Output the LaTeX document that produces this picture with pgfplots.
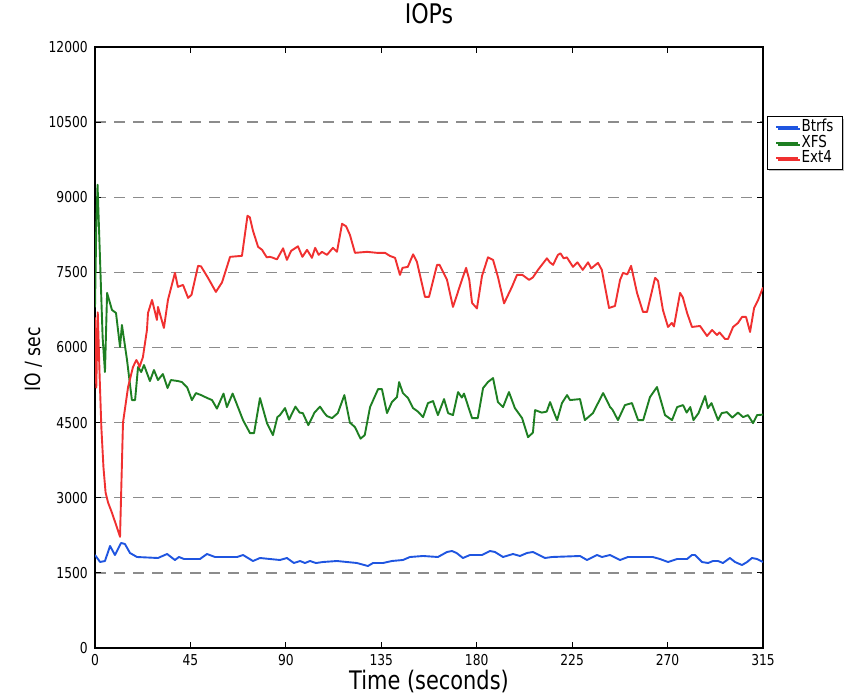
\documentclass[border=0pt]{standalone}
\usepackage{fontspec}
\setmainfont[FakeStretch=0.82]{DejaVu Sans}
\usepackage{pgfplots}
\pgfplotsset{compat=1.18}
\usetikzlibrary{shadows}
\definecolor{btrfs}{HTML}{1F55E0}
\definecolor{xfs}{HTML}{1E7F22}
\definecolor{ext}{HTML}{F03030}
\definecolor{gridc}{HTML}{8C8C8C}

\begin{document}
\begin{tikzpicture}
\begin{axis}[
  scale only axis, width=668pt, height=601pt,
  xmin=0, xmax=315, ymin=0, ymax=12000,
  xtick={0,45,...,315}, ytick={0,1500,...,12000},
  scaled y ticks=false,
  /pgf/number format/.cd, 1000 sep={}, assume math mode=true, /pgfplots/.cd,
  tick align=inside, tick pos=both, major tick length=6pt,
  tick style={black, line width=0.9pt},
  axis line style={black, line width=1.6pt},
  ymajorgrids, grid style={gridc, line width=1.4pt, dash pattern=on 11pt off 8pt},
  ticklabel style={font=\fontsize{15}{15}\selectfont},
  yticklabel style={inner sep=0pt, xshift=-7pt},
  xticklabel style={inner sep=0pt, yshift=-6pt},
  title={IOPs},
  title style={font=\fontsize{27}{27}\selectfont, at={(axis description cs:0.5,1)}, anchor=base, inner sep=0pt, yshift=17pt},
  xlabel={Time (seconds)},
  xlabel style={font=\fontsize{25.5}{25.5}\selectfont, at={(axis description cs:0.5,0)}, anchor=base, inner sep=0pt, yshift=-41pt},
  ylabel={IO / sec},
  ylabel style={font=\fontsize{21}{21}\selectfont, at={(axis description cs:-0.082,0.48)}, anchor=base, inner sep=0pt},
  legend style={at={(1.006,0.885)}, anchor=north west, draw=black, line width=0.8pt, fill=white,
    row sep=0pt, column sep=2pt, inner xsep=8pt, inner ysep=3pt,
    nodes={font=\fontsize{16.5}{16.5}\selectfont, inner sep=0.5pt, text height=11.5pt, text depth=3pt},
    cells={anchor=west}, drop shadow={shadow xshift=2pt, shadow yshift=-2pt, fill=gray!50, opacity=1}},
  legend image code/.code={\draw[line width=1.6pt, #1] (0pt,0pt) -- (22pt,0pt);},
  every axis plot/.append style={line width=1.9pt, line join=round},
]
% Btrfs
\addplot[draw=btrfs] coordinates {
(0,1857) (2.4,1717) (4.7,1737) (7.1,2037) (9.4,1857) (12.3,2097) (14.1,2077) (16.5,1897)
(19.8,1817) (29.7,1797) (34,1877) (37.7,1757) (39.6,1817) (42,1777) (49.5,1777) (52.8,1877)
(56.6,1817) (67,1817) (69.8,1857) (74.5,1737) (77.8,1797) (87.2,1757) (90.5,1797) (93.8,1697)
(96.7,1737) (99,1697) (101.4,1737) (104.2,1697) (107.5,1717) (114.1,1737) (123.5,1697)
(128.7,1637) (131.1,1697) (135.8,1697) (140,1737) (145.2,1757) (148.5,1817) (154.7,1837)
(161.7,1817) (166,1917) (168.3,1937) (170.5,1897) (173.5,1797) (176.8,1857) (182.5,1857)
(186.3,1937) (188.6,1917) (192.4,1817) (197.1,1877) (200.4,1837) (203.7,1897) (206.5,1917)
(212.2,1797) (215.5,1817) (228.7,1837) (232,1757) (236.7,1857) (239.1,1817) (242.9,1857)
(247.6,1757) (251.3,1817) (260.3,1817) (263,1817) (266.4,1777) (270.2,1717) (274.5,1777)
(279.2,1777) (281.5,1857) (282.9,1857) (286.2,1717) (289.1,1697) (291.4,1737) (293.8,1737)
(296.1,1697) (299.4,1797) (301.8,1717) (305.1,1657) (307.5,1717) (309.8,1797) (312.2,1777)
(315,1717)
};
\addlegendentry{Btrfs}
% XFS
\addplot[draw=xfs] coordinates {
(0,6800) (0.6,8400) (1.2,9250) (2.5,7600) (3.6,6200) (4.7,5510) (5.7,7090) (8,6750)
(9.9,6690) (11.8,6010) (12.7,6450) (15.1,5750) (17.4,4950) (18.9,4950) (20.3,5610)
(21.8,5510) (23.1,5650) (25.9,5330) (27.8,5550) (29.7,5350) (32,5470) (34.2,5190)
(35.8,5350) (39.1,5330) (41,5310) (43.5,5200) (45.7,4950) (47.6,5090) (50,5050) (53,4990)
(55.2,4950) (57.5,4780) (60.6,5080) (62.2,4810) (64.9,5080) (67.5,4800) (69.8,4550)
(73.1,4290) (75,4290) (77.8,4990) (81.1,4490) (83.9,4250) (86,4610) (87.2,4650) (89.6,4790)
(91.5,4560) (94.5,4820) (96.5,4700) (98,4690) (100.6,4450) (103.5,4700) (106.1,4820)
(108,4700) (109.4,4630) (111.8,4590) (114.5,4690) (117.6,5050) (120.2,4500) (122.6,4410)
(125.2,4180) (127.2,4250) (129.7,4810) (133.5,5170) (135.3,5170) (137.7,4690) (140,4910)
(142.4,5010) (143.4,5310) (145.2,5090) (147.6,4990) (150,4790) (152.3,4720) (154.7,4610)
(157,4890) (159.4,4930) (161.7,4650) (164.6,4970) (166.5,4690) (168.8,4650) (171.2,5110)
(173,5000) (174,5080) (177.8,4590) (180.5,4590) (183,5190) (185.3,5310) (187.7,5390)
(190,4910) (192.4,4810) (195.2,5110) (198,4790) (201.4,4590) (204.2,4210) (206.5,4300)
(207.5,4750) (210.7,4700) (213,4720) (214.6,4910) (216,4750) (217.9,4550) (220.2,4890)
(222.6,5050) (224,4950) (228.7,4970) (231,4550) (234.8,4690) (239.6,5090) (242.9,4810)
(244,4760) (246.6,4550) (249.9,4850) (253.2,4890) (256.1,4550) (258.5,4550) (261.7,5010)
(265,5210) (268.8,4650) (272.1,4550) (274.5,4810) (277.3,4850) (279,4700) (280.7,4810)
(282.2,4550) (284.6,4690) (287.7,5030) (289,4790) (290.7,4890) (293.8,4550) (295.5,4690)
(298,4710) (300.5,4600) (303.2,4700) (305.6,4610) (307.9,4650) (310.3,4490) (312.2,4650)
(315,4660)
};
\addlegendentry{XFS}
% Ext4
\addplot[draw=ext] coordinates {
(0,6600) (0.6,5200) (1.3,6700) (2.2,5400) (3,4400) (4,3600) (5,3100) (6.2,2900) (8,2700)
(10,2450) (11.8,2220) (13.2,4500) (15.6,5210) (17.9,5610) (19.5,5750) (20.3,5690)
(21,5610) (22.6,5810) (24.5,6350) (25,6690) (26.9,6950) (29.2,6550) (29.7,6810)
(32.5,6390) (34.4,6950) (37.7,7490) (39.1,7210) (41.5,7250) (43.9,6990) (45.5,7050)
(48.6,7630) (50,7620) (53.3,7390) (57,7110) (59.9,7300) (63.7,7810) (69.3,7830)
(71.9,8630) (73,8600) (74.5,8330) (76.9,8010) (78.8,7950) (79.5,7900) (81,7800)
(82.5,7810) (84,7790) (85.8,7760) (88.7,7980) (90.5,7750) (92.5,7930) (95.7,8020)
(97.8,7810) (100,7950) (102.3,7790) (103.8,7990) (105.5,7850) (107,7910) (109.4,7850)
(112.2,7990) (114.1,7910) (116.5,8470) (118.4,8420) (120.2,8250) (122.6,7890)
(128.3,7910) (133,7890) (136.8,7890) (139,7830) (141.5,7790) (143.8,7450) (145,7590)
(147.5,7610) (150,7860) (151.8,7710) (155.6,7010) (157.5,7010) (161.3,7650) (162.5,7650)
(166,7350) (168.8,6810) (170.3,7000) (173,7350) (175,7590) (176.5,7350) (177.8,6890)
(180.1,6780) (182.5,7430) (185.3,7800) (187.7,7750) (190,7410) (192.9,6880) (196.6,7210)
(199,7450) (201.5,7450) (204.7,7350) (206.5,7400) (208.9,7550) (213.1,7780) (214.5,7700)
(216,7650) (218.3,7850) (219.5,7880) (221,7780) (222.5,7800) (225.4,7610) (227.5,7700)
(230,7550) (232.5,7700) (234,7580) (237.2,7690) (239,7550) (242.4,6790) (245.2,6830)
(247.6,7350) (249,7490) (251,7460) (252.8,7630) (255.6,7090) (258.4,6710) (260.3,6710)
(264.1,7390) (265.5,7330) (267.8,6750) (270.2,6410) (272,6490) (273,6420) (275.9,7090)
(277.2,7000) (279.2,6690) (281.5,6410) (285.3,6430) (288.6,6230) (291,6350) (293.3,6250)
(294.5,6300) (297.1,6170) (298.5,6170) (300.9,6410) (303.2,6490) (305.1,6610) (307,6610)
(308.9,6310) (310.8,6790) (312.7,6950) (315,7200)
};
\addlegendentry{Ext4}
\end{axis}
\path ([xshift=-95pt,yshift=-48pt]current axis.south west) rectangle ([xshift=85pt,yshift=47pt]current axis.north east);
\end{tikzpicture}
\end{document}
